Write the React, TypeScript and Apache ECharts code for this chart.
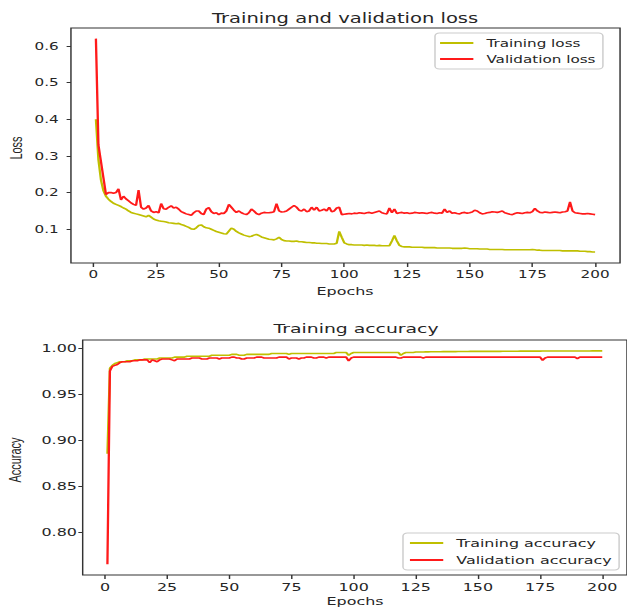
import React, { useEffect, useRef } from "react";
import * as echarts from "echarts";

// ---------- data ----------
const xTickValues = [0, 25, 50, 75, 100, 125, 150, 175, 200];
const lossTickValues = [0.1, 0.2, 0.3, 0.4, 0.5, 0.6];
const accTickValues = [0.8, 0.85, 0.9, 0.95, 1.0];

const trainingLoss = [
  0.400, 0.290, 0.235, 0.205, 0.190, 0.182, 0.176, 0.171, 0.168, 0.165,
  0.162, 0.158, 0.155, 0.150, 0.146, 0.144, 0.142, 0.140, 0.138, 0.136,
  0.134, 0.138, 0.133, 0.128, 0.125, 0.123, 0.122, 0.121, 0.120, 0.118,
  0.117, 0.116, 0.115, 0.116, 0.113, 0.111, 0.108, 0.105, 0.101, 0.100,
  0.104, 0.110, 0.112, 0.107, 0.104, 0.103, 0.100, 0.097, 0.094, 0.092,
  0.090, 0.088, 0.087, 0.095, 0.103, 0.100, 0.094, 0.090, 0.087, 0.084,
  0.082, 0.080, 0.081, 0.084, 0.086, 0.083, 0.079, 0.077, 0.075, 0.073,
  0.072, 0.071, 0.074, 0.078, 0.072, 0.069, 0.068, 0.068, 0.067, 0.067,
  0.068, 0.066, 0.066, 0.065, 0.064, 0.064, 0.063, 0.063, 0.062, 0.062,
  0.061, 0.061, 0.061, 0.060, 0.060, 0.060, 0.062, 0.094, 0.078, 0.063,
  0.060, 0.058, 0.058, 0.057, 0.057, 0.057, 0.057, 0.056, 0.057, 0.056,
  0.056, 0.056, 0.055, 0.056, 0.055, 0.055, 0.055, 0.055, 0.068, 0.083,
  0.068, 0.056, 0.053, 0.052, 0.052, 0.052, 0.051, 0.051, 0.051, 0.051,
  0.051, 0.050, 0.050, 0.050, 0.050, 0.050, 0.049, 0.049, 0.049, 0.049,
  0.049, 0.049, 0.048, 0.048, 0.048, 0.048, 0.048, 0.049, 0.048, 0.047,
  0.047, 0.047, 0.047, 0.046, 0.046, 0.046, 0.046, 0.045, 0.045, 0.045,
  0.045, 0.045, 0.045, 0.044, 0.044, 0.044, 0.044, 0.044, 0.044, 0.044,
  0.044, 0.044, 0.044, 0.044, 0.045, 0.044, 0.043, 0.043, 0.042, 0.042,
  0.042, 0.042, 0.042, 0.042, 0.042, 0.042, 0.041, 0.041, 0.041, 0.041,
  0.041, 0.041, 0.041, 0.040, 0.040, 0.040, 0.039, 0.039, 0.038, 0.038,
];

const validationLoss = [
  0.620, 0.330, 0.285, 0.240, 0.195, 0.200, 0.200, 0.198, 0.200, 0.210,
  0.180, 0.190, 0.183, 0.178, 0.172, 0.168, 0.165, 0.207, 0.160, 0.155,
  0.158, 0.165, 0.150, 0.146, 0.148, 0.145, 0.170, 0.156, 0.155, 0.160,
  0.164, 0.158, 0.160, 0.155, 0.148, 0.145, 0.142, 0.140, 0.138, 0.145,
  0.150, 0.150, 0.143, 0.140, 0.155, 0.159, 0.148, 0.143, 0.145, 0.140,
  0.144, 0.143, 0.150, 0.168, 0.160, 0.152, 0.146, 0.150, 0.145, 0.142,
  0.140, 0.145, 0.155, 0.150, 0.143, 0.140, 0.144, 0.146, 0.145, 0.145,
  0.146, 0.148, 0.170, 0.150, 0.147, 0.148, 0.150, 0.155, 0.160, 0.165,
  0.160, 0.152, 0.150, 0.155, 0.148, 0.150, 0.160, 0.152, 0.160, 0.150,
  0.152, 0.155, 0.150, 0.160, 0.148, 0.150, 0.158, 0.160, 0.140, 0.141,
  0.142, 0.143, 0.142, 0.144, 0.143, 0.145, 0.144, 0.143, 0.145, 0.146,
  0.144, 0.146, 0.148, 0.150, 0.145, 0.143, 0.142, 0.158, 0.145, 0.155,
  0.143, 0.145, 0.146, 0.144, 0.145, 0.143, 0.144, 0.146, 0.145, 0.144,
  0.145, 0.144, 0.143, 0.145, 0.146, 0.144, 0.143, 0.145, 0.144, 0.155,
  0.146, 0.150, 0.144, 0.145, 0.143, 0.142, 0.145, 0.146, 0.144, 0.145,
  0.147, 0.152, 0.150, 0.145, 0.142, 0.143, 0.145, 0.146, 0.148, 0.147,
  0.146, 0.148, 0.150, 0.145, 0.143, 0.141, 0.140, 0.143, 0.145, 0.144,
  0.143, 0.145, 0.146, 0.145, 0.148, 0.157, 0.150, 0.146, 0.145, 0.147,
  0.146, 0.145, 0.146, 0.147, 0.146, 0.145, 0.147, 0.148, 0.150, 0.175,
  0.150, 0.145, 0.144, 0.143, 0.142, 0.142, 0.143, 0.142, 0.141, 0.140,
];

const trainingAccuracy = [
  0.885, 0.978, 0.981, 0.983, 0.984, 0.985, 0.985, 0.985, 0.986, 0.986,
  0.986, 0.987, 0.987, 0.987, 0.987, 0.988, 0.988, 0.988, 0.988, 0.988,
  0.988, 0.989, 0.989, 0.989, 0.989, 0.989, 0.989, 0.990, 0.990, 0.990,
  0.990, 0.990, 0.991, 0.991, 0.991, 0.991, 0.991, 0.991, 0.991, 0.991,
  0.991, 0.991, 0.992, 0.992, 0.992, 0.992, 0.992, 0.992, 0.992, 0.992,
  0.993, 0.993, 0.993, 0.992, 0.992, 0.992, 0.993, 0.993, 0.993, 0.993,
  0.993, 0.993, 0.993, 0.993, 0.993, 0.993, 0.994, 0.994, 0.994, 0.994,
  0.994, 0.994, 0.994, 0.993, 0.994, 0.994, 0.994, 0.994, 0.994, 0.994,
  0.994, 0.994, 0.994, 0.994, 0.994, 0.994, 0.994, 0.994, 0.994, 0.994,
  0.994, 0.994, 0.995, 0.995, 0.995, 0.995, 0.995, 0.992, 0.994, 0.995,
  0.995, 0.995, 0.995, 0.995, 0.995, 0.995, 0.995, 0.995, 0.995, 0.995,
  0.995, 0.995, 0.995, 0.995, 0.995, 0.995, 0.995, 0.995, 0.992, 0.994,
  0.995, 0.995, 0.995, 0.995, 0.9955, 0.9955, 0.9956, 0.9956, 0.9957, 0.9957,
  0.9958, 0.9958, 0.9959, 0.9959, 0.9959, 0.9960, 0.9960, 0.9960, 0.9960, 0.9960,
  0.9960, 0.9961, 0.9961, 0.9961, 0.9961, 0.9961, 0.9962, 0.9962, 0.9962, 0.9962,
  0.9962, 0.9962, 0.9963, 0.9963, 0.9963, 0.9963, 0.9963, 0.9963, 0.9963, 0.9964,
  0.9964, 0.9964, 0.9964, 0.9964, 0.9964, 0.9964, 0.9965, 0.9965, 0.9965, 0.9965,
  0.9965, 0.9965, 0.9965, 0.9965, 0.9965, 0.9966, 0.9966, 0.9966, 0.9966, 0.9966,
  0.9966, 0.9966, 0.9966, 0.9966, 0.9966, 0.9967, 0.9967, 0.9967, 0.9967, 0.9967,
  0.9967, 0.9967, 0.9967, 0.9967, 0.9967, 0.9968, 0.9968, 0.9968, 0.9968, 0.9968,
];

const validationAccuracy = [
  0.765, 0.975, 0.980, 0.981, 0.982, 0.984, 0.985, 0.985, 0.985, 0.985,
  0.986, 0.986, 0.986, 0.987, 0.987, 0.987, 0.987, 0.984, 0.987, 0.986,
  0.985, 0.987, 0.988, 0.988, 0.988, 0.988, 0.987, 0.986, 0.988, 0.988,
  0.988, 0.988, 0.988, 0.988, 0.989, 0.989, 0.989, 0.989, 0.988, 0.988,
  0.988, 0.989, 0.989, 0.989, 0.989, 0.988, 0.989, 0.989, 0.989, 0.989,
  0.990, 0.990, 0.989, 0.989, 0.988, 0.988, 0.989, 0.989, 0.989, 0.989,
  0.990, 0.990, 0.990, 0.989, 0.989, 0.989, 0.989, 0.989, 0.989, 0.990,
  0.990, 0.990, 0.990, 0.988, 0.989, 0.989, 0.989, 0.988, 0.989, 0.989,
  0.990, 0.990, 0.990, 0.989, 0.989, 0.990, 0.990, 0.990, 0.989, 0.990,
  0.990, 0.990, 0.990, 0.990, 0.990, 0.990, 0.990, 0.986, 0.989, 0.990,
  0.990, 0.990, 0.990, 0.990, 0.990, 0.990, 0.990, 0.990, 0.990, 0.990,
  0.990, 0.990, 0.990, 0.990, 0.990, 0.990, 0.990, 0.989, 0.989, 0.990,
  0.990, 0.990, 0.990, 0.990, 0.990, 0.990, 0.990, 0.989, 0.990, 0.990,
  0.990, 0.990, 0.990, 0.990, 0.990, 0.990, 0.990, 0.990, 0.990, 0.990,
  0.990, 0.990, 0.990, 0.990, 0.990, 0.990, 0.990, 0.990, 0.990, 0.990,
  0.990, 0.990, 0.990, 0.990, 0.990, 0.990, 0.990, 0.990, 0.990, 0.990,
  0.990, 0.990, 0.990, 0.990, 0.990, 0.990, 0.990, 0.990, 0.990, 0.990,
  0.990, 0.990, 0.990, 0.990, 0.990, 0.9865, 0.989, 0.990, 0.990, 0.990,
  0.990, 0.990, 0.990, 0.990, 0.990, 0.990, 0.990, 0.990, 0.990, 0.9885,
  0.990, 0.990, 0.990, 0.990, 0.990, 0.990, 0.990, 0.990, 0.990, 0.990,
];

const seriesNames = {
  trainLoss: "Training loss",
  valLoss: "Validation loss",
  trainAcc: "Training accuracy",
  valAcc: "Validation accuracy",
};

// ---------- layout ----------
const W = 433;
const H = 609;
const SX = 627 / W; // the reference image is stretched horizontally
const FONT = '"DejaVu Sans", sans-serif';
const TEXT = "#262626";
const YELLOW = "#bfbf00";
const RED = "#ff1a1a";

const pairs = (arr: number[]) => arr.map((v, i) => [i + 1, v]);

function buildOption(): any {
  const axisCommonX = (gridIndex: number, fontSize: number) => ({
    type: "value",
    gridIndex,
    min: -8.95,
    max: 209.95,
    axisLine: { show: false, onZero: false },
    splitLine: { show: false },
    axisTick: {
      show: true,
      length: 4,
      lineStyle: { color: "#333", width: 1 },
      customValues: xTickValues,
    },
    axisLabel: {
      customValues: xTickValues,
      fontSize,
      fontFamily: FONT,
      color: TEXT,
      margin: 6,
    },
  });

  const legendCommon = {
    orient: "vertical",
    icon: "rect",
    itemWidth: 23,
    itemHeight: 1.8,
    itemGap: 4,
    borderColor: "#cccccc",
    borderWidth: 1,
    borderRadius: 3,
    backgroundColor: "#ffffff",
  };

  return {
    animation: false,
    backgroundColor: "#ffffff",
    grid: [
      {
        left: 49,
        top: 28,
        width: 379.2,
        height: 235,
        show: true,
        borderColor: "#333",
        borderWidth: 1,
        backgroundColor: "transparent",
      },
      {
        left: 57.1,
        top: 340,
        width: 378.7,
        height: 235,
        show: true,
        borderColor: "#333",
        borderWidth: 1,
        backgroundColor: "transparent",
      },
    ],
    xAxis: [axisCommonX(0, 10.5), axisCommonX(1, 11)],
    yAxis: [
      {
        type: "value",
        gridIndex: 0,
        min: 0.008,
        max: 0.649,
        axisLine: { show: false, onZero: false },
        splitLine: { show: false },
        axisTick: {
          show: true,
          length: 3,
          lineStyle: { color: "#333", width: 1 },
          customValues: lossTickValues,
        },
        axisLabel: {
          customValues: lossTickValues,
          formatter: (v: number) => v.toFixed(1),
          fontSize: 10.5,
          fontFamily: FONT,
          color: TEXT,
          margin: 8.5,
        },
      },
      {
        type: "value",
        gridIndex: 1,
        min: 0.7534,
        max: 1.0086,
        axisLine: { show: false, onZero: false },
        splitLine: { show: false },
        axisTick: {
          show: true,
          length: 3,
          lineStyle: { color: "#333", width: 1 },
          customValues: accTickValues,
        },
        axisLabel: {
          customValues: accTickValues,
          formatter: (v: number) => v.toFixed(2),
          fontSize: 11,
          fontFamily: FONT,
          color: TEXT,
          margin: 4,
        },
      },
    ],
    legend: [
      {
        ...legendCommon,
        data: [seriesNames.trainLoss, seriesNames.valLoss],
        left: 300.4,
        top: 33,
        padding: [4, 5, 4, 3.5],
        textStyle: {
          fontSize: 10.5,
          lineHeight: 12,
          fontFamily: FONT,
          color: TEXT,
          padding: [0, 0, 0, 4],
        },
      },
      {
        ...legendCommon,
        data: [seriesNames.trainAcc, seriesNames.valAcc],
        left: 278.3,
        top: 533,
        padding: [3.5, 5, 3.5, 4.8],
        textStyle: {
          fontSize: 11,
          lineHeight: 13,
          fontFamily: FONT,
          color: TEXT,
          padding: [0, 0, 0, 4],
        },
      },
    ],
    graphic: [
      {
        type: "text",
        x: 238.3,
        y: 18,
        style: {
          text: "Training and validation loss",
          fontSize: 13.5,
          fontFamily: FONT,
          fill: TEXT,
          align: "center",
          verticalAlign: "middle",
        },
      },
      {
        type: "text",
        x: 245.9,
        y: 329,
        style: {
          text: "Training accuracy",
          fontSize: 13,
          fontFamily: FONT,
          fill: TEXT,
          align: "center",
          verticalAlign: "middle",
        },
      },
      {
        type: "text",
        x: 238.3,
        y: 291,
        style: {
          text: "Epochs",
          fontSize: 11,
          fontFamily: FONT,
          fill: TEXT,
          align: "center",
          verticalAlign: "middle",
        },
      },
      {
        type: "text",
        x: 245.2,
        y: 601,
        style: {
          text: "Epochs",
          fontSize: 11,
          fontFamily: FONT,
          fill: TEXT,
          align: "center",
          verticalAlign: "middle",
        },
      },
      {
        type: "text",
        x: 11.7,
        y: 148,
        rotation: Math.PI / 2,
        style: {
          text: "Loss",
          fontSize: 11,
          fontFamily: '"Liberation Sans", Arial, sans-serif',
          fill: TEXT,
          align: "center",
          verticalAlign: "middle",
        },
      },
      {
        type: "text",
        x: 11,
        y: 460,
        rotation: Math.PI / 2,
        style: {
          text: "Accuracy",
          fontSize: 11,
          fontFamily: '"Liberation Sans", Arial, sans-serif',
          fill: TEXT,
          align: "center",
          verticalAlign: "middle",
        },
      },
    ],
    series: [
      {
        name: seriesNames.trainLoss,
        type: "line",
        xAxisIndex: 0,
        yAxisIndex: 0,
        data: pairs(trainingLoss),
        symbol: "none",
        showSymbol: false,
        lineStyle: { color: YELLOW, width: 1.6 },
        itemStyle: { color: YELLOW },
      },
      {
        name: seriesNames.valLoss,
        type: "line",
        xAxisIndex: 0,
        yAxisIndex: 0,
        data: pairs(validationLoss),
        symbol: "none",
        showSymbol: false,
        lineStyle: { color: RED, width: 1.6 },
        itemStyle: { color: RED },
      },
      {
        name: seriesNames.trainAcc,
        type: "line",
        xAxisIndex: 1,
        yAxisIndex: 1,
        data: pairs(trainingAccuracy),
        symbol: "none",
        showSymbol: false,
        lineStyle: { color: YELLOW, width: 1.6 },
        itemStyle: { color: YELLOW },
      },
      {
        name: seriesNames.valAcc,
        type: "line",
        xAxisIndex: 1,
        yAxisIndex: 1,
        data: pairs(validationAccuracy),
        symbol: "none",
        showSymbol: false,
        lineStyle: { color: RED, width: 1.6 },
        itemStyle: { color: RED },
      },
    ],
  };
}

export default function App() {
  const ref = useRef<HTMLDivElement>(null);
  useEffect(() => {
    if (!ref.current) return;
    const chart = echarts.init(ref.current, null, {
      renderer: "svg",
      width: W,
      height: H,
    });
    chart.setOption(buildOption());
    return () => chart.dispose();
  }, []);
  return (
    <div
      ref={ref}
      style={{
        position: "fixed",
        left: 0,
        top: 0,
        width: W,
        height: H,
        overflow: "hidden",
        transform: `scaleX(${SX})`,
        transformOrigin: "0 0",
        background: "#fff",
      }}
    />
  );
}
